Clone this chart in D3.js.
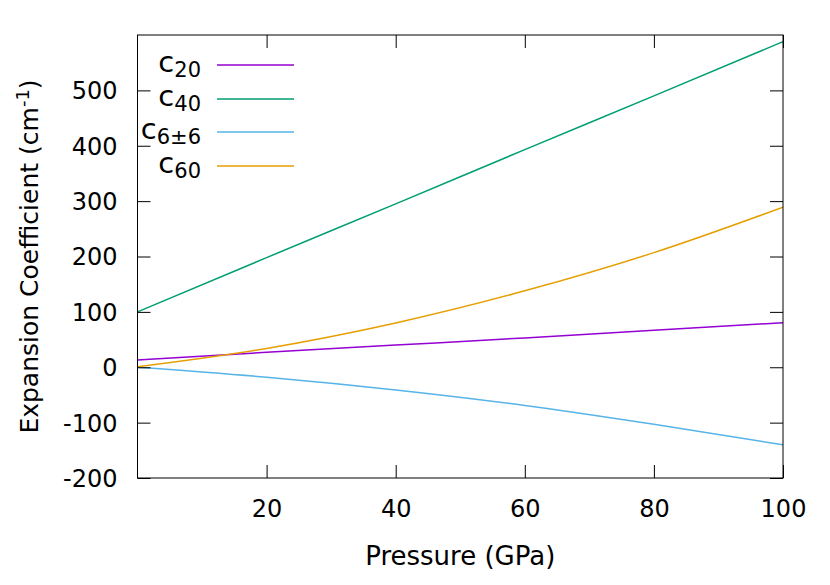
<!DOCTYPE html>
<html>
<head>
<meta charset="utf-8">
<script src="https://cdn.jsdelivr.net/npm/d3@7"></script>
<style>
  body { margin: 0; background: #fff; }
  text { font-family: "DejaVu Sans", sans-serif; fill: #000; }
</style>
</head>
<body>
<svg id="canvas"></svg>
<script>
let pressure = [0, 20, 40, 60, 80, 100];
let c20 = [13, 27, 40, 53, 67, 80.5];
let c40 = [100, 198, 295, 393, 490, 588];
let c66 = [0, -18, -41, -69, -103, -140];
let c60 = [1, 34, 80, 138, 207, 289];

let seriesNames = [["c", "20"], ["c", "40"], ["c", "6±6"], ["c", "60"]];
let seriesValues = [c20, c40, c66, c60];
let colors = ["#9400D3", "#009E73", "#56B4E9", "#E69F00"];

let xTicks = [20, 40, 60, 80, 100];
let yTicks = [-200, -100, 0, 100, 200, 300, 400, 500];

let width = 830;
let height = 585;
let padLeft = 137.5, padRight = 783, padTop = 35, padBottom = 478;

let canvas = d3.select("#canvas")
    .attr("width", width)
    .attr("height", height);

let xScale = d3.scaleLinear().domain([0, 100]).range([padLeft, padRight]);
let yScale = d3.scaleLinear().domain([-200, 600]).range([padBottom, padTop]);

// lines
let line = d3.line()
    .x((d, i) => xScale(pressure[i]))
    .y(d => yScale(d))
    .curve(d3.curveMonotoneX);

canvas.append("defs").append("clipPath").attr("id", "clip")
    .append("rect")
    .attr("x", padLeft).attr("y", padTop)
    .attr("width", padRight - padLeft).attr("height", padBottom - padTop);

canvas.append("g")
    .attr("clip-path", "url(#clip)")
    .selectAll("path")
    .data(seriesValues)
    .enter()
    .append("path")
    .attr("d", d => line(d))
    .attr("fill", "none")
    .attr("stroke", (d, i) => colors[i])
    .attr("stroke-width", 1.5);

// axes, gnuplot style: ticks inside, mirrored
let tickLen = 13;
let fmt = d => String(d);
let drawAxis = (axis, tx, ty, labels) => {
    let g = canvas.append("g")
        .attr("transform", "translate(" + tx + "," + ty + ")")
        .call(axis);
    g.select(".domain").remove();
    g.selectAll("line").attr("stroke", "#000").attr("stroke-width", 1);
    if (!labels) g.selectAll("text").remove();
    return g;
};

let xb = drawAxis(d3.axisBottom(xScale).tickValues(xTicks).tickFormat(fmt).tickSizeInner(-tickLen).tickPadding(22), 0, padBottom, true);
xb.selectAll("text").attr("font-size", 24).attr("font-family", "DejaVu Sans");
drawAxis(d3.axisTop(xScale).tickValues(xTicks).tickSizeInner(-tickLen), 0, padTop, false);

let yl = drawAxis(d3.axisLeft(yScale).tickValues(yTicks).tickFormat(fmt).tickSizeInner(-tickLen).tickPadding(20), padLeft, 0, true);
yl.selectAll("text").attr("font-size", 24).attr("font-family", "DejaVu Sans").attr("dy", "0.35em");
drawAxis(d3.axisRight(yScale).tickValues(yTicks).tickSizeInner(-tickLen), padRight, 0, false);

// border
canvas.append("rect")
    .attr("x", padLeft).attr("y", padTop)
    .attr("width", padRight - padLeft).attr("height", padBottom - padTop)
    .attr("fill", "none")
    .attr("stroke", "#000")
    .attr("stroke-width", 1);

// axis titles
canvas.append("text")
    .attr("x", (padLeft + padRight) / 2)
    .attr("y", 565)
    .attr("text-anchor", "middle")
    .attr("font-size", 26)
    .text("Pressure (GPa)");

let yt = canvas.append("text")
    .attr("transform", "translate(38," + (padTop + padBottom) / 2 + ") rotate(-90)")
    .attr("text-anchor", "middle")
    .attr("font-size", 25);
yt.append("tspan").text("Expansion Coefficient (cm");
yt.append("tspan").attr("font-size", 18).attr("dy", -9).text("-1");
yt.append("tspan").attr("dy", 9).text(")");

// legend
let legendY = [65, 99, 132, 166];
let legend = canvas.append("g");
seriesNames.forEach((n, i) => {
    let t = legend.append("text")
        .attr("x", 201)
        .attr("y", legendY[i] + 7)
        .attr("text-anchor", "end")
        .attr("font-size", 29);
    t.append("tspan").text(n[0]);
    t.append("tspan").attr("font-size", 21).attr("dy", 5).text(n[1]);
    legend.append("line")
        .attr("x1", 217).attr("x2", 294)
        .attr("y1", legendY[i]).attr("y2", legendY[i])
        .attr("stroke", colors[i])
        .attr("stroke-width", 1.5);
});
</script>
</body>
</html>
